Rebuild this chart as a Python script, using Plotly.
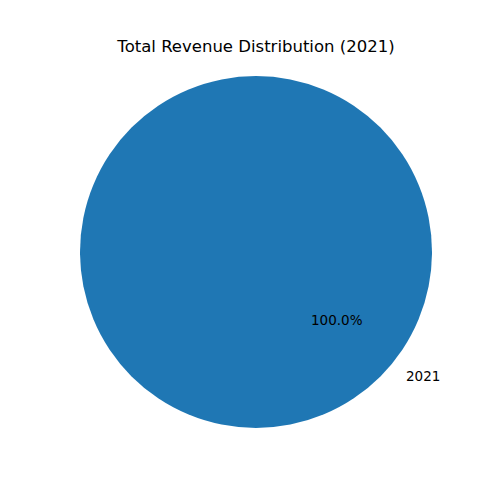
import numpy as np
import plotly.graph_objects as go

# data
years = ["2021"]
revenue = [1.0]
colors = ["#1f77b4"]

start_angle = 140  # degrees, counter-clockwise like matplotlib

# pie geometry in paper coords (page adds an 8px offset)
cx, cy = 248 / 500, 1 - 244 / 500
R = 176 / 500

fig = go.Figure()
fig.add_trace(go.Pie(
    labels=years, values=revenue, sort=False,
    marker=dict(colors=colors, line=dict(width=0)),
    textinfo="none", hoverinfo="label+percent",
    domain=dict(x=[cx - R, cx + R], y=[cy - R, cy + R]),
    showlegend=False,
))

total = sum(revenue)
theta = start_angle
for lab, v in zip(years, revenue):
    span = 360 * v / total
    mid = np.deg2rad(theta + span / 2)
    theta += span
    fig.add_annotation(
        x=cx + 0.6 * R * np.cos(mid), y=cy + 0.6 * R * np.sin(mid),
        xref="paper", yref="paper", showarrow=False,
        text=f"{100 * v / total:.1f}%", xanchor="center", yanchor="middle",
        font=dict(size=13.5, color="black"),
    )
    fig.add_annotation(
        x=cx + 1.1 * R * np.cos(mid), y=cy + 1.1 * R * np.sin(mid),
        xref="paper", yref="paper", showarrow=False,
        text=lab, xanchor="left" if np.cos(mid) > 0 else "right", yanchor="middle",
        font=dict(size=13.5, color="black"),
    )

fig.update_layout(
    width=500, height=500,
    margin=dict(l=0, r=0, t=0, b=0),
    paper_bgcolor="white", plot_bgcolor="white",
    font=dict(family="DejaVu Sans"),
    title=dict(text="Total Revenue Distribution (2021)", x=cx, xanchor="center",
               y=1 - 38 / 500, yanchor="middle", font=dict(size=16.5, color="black")),
)

fig.write_html("out.html")
